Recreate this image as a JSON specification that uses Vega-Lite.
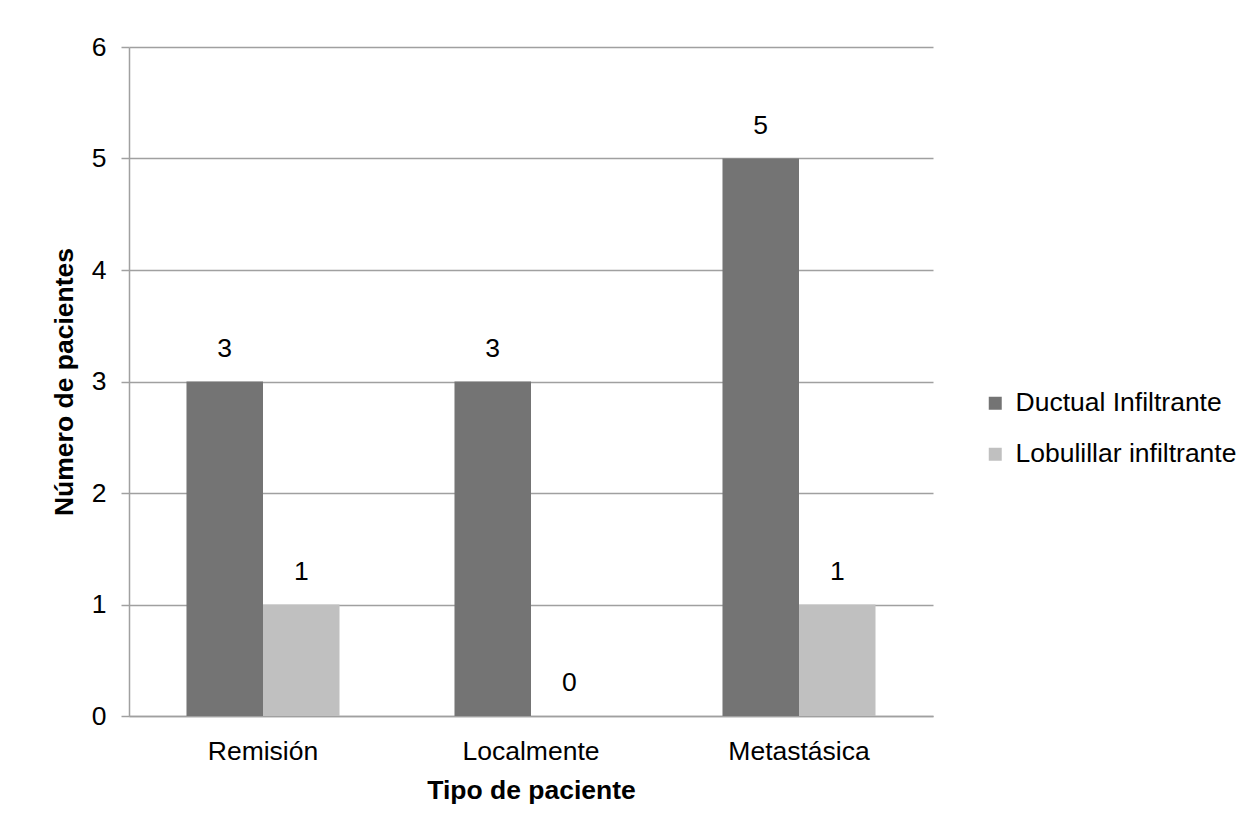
{
  "$schema": "https://vega.github.io/schema/vega-lite/v6.json",
  "width": 804,
  "height": 669,
  "autosize": {"type": "none"},
  "padding": {"left": 129, "top": 47, "right": 315, "bottom": 120},
  "background": "white",
  "data": {
    "values": [
      {"tipo": "Remisión", "histologia": "Ductual Infiltrante", "pacientes": 3},
      {"tipo": "Remisión", "histologia": "Lobulillar infiltrante", "pacientes": 1},
      {"tipo": "Localmente", "histologia": "Ductual Infiltrante", "pacientes": 3},
      {"tipo": "Localmente", "histologia": "Lobulillar infiltrante", "pacientes": 0},
      {"tipo": "Metastásica", "histologia": "Ductual Infiltrante", "pacientes": 5},
      {"tipo": "Metastásica", "histologia": "Lobulillar infiltrante", "pacientes": 1}
    ]
  },
  "config": {
    "font": "Liberation Sans",
    "view": {"stroke": null},
    "axis": {
      "labelFont": "Liberation Sans",
      "labelFontSize": 26.5,
      "labelColor": "#000000",
      "titleFont": "Liberation Sans",
      "titleFontSize": 26.5,
      "titleFontWeight": "bold",
      "titleColor": "#000000",
      "domainColor": "#a0a0a0",
      "domainWidth": 1.5,
      "tickColor": "#a0a0a0",
      "tickWidth": 1.5,
      "gridColor": "#a0a0a0",
      "gridWidth": 1.5,
      "gridOpacity": 1
    }
  },
  "encoding": {
    "x": {
      "field": "tipo",
      "type": "nominal",
      "sort": ["Remisión", "Localmente", "Metastásica"],
      "scale": {"paddingInner": 0.429, "paddingOuter": 0.2145},
      "title": "Tipo de paciente",
      "axis": {
        "labelAngle": 0,
        "ticks": false,
        "tickSize": 0,
        "labelPadding": 22,
        "labelBaseline": "top",
        "titlePadding": 13,
        "grid": false
      }
    },
    "xOffset": {
      "field": "histologia",
      "type": "nominal",
      "sort": ["Ductual Infiltrante", "Lobulillar infiltrante"],
      "scale": {"paddingInner": 0, "paddingOuter": 0}
    },
    "y": {
      "field": "pacientes",
      "type": "quantitative",
      "scale": {"domain": [0, 6], "nice": false},
      "title": "Número de pacientes",
      "axis": {
        "values": [0, 1, 2, 3, 4, 5, 6],
        "format": "d",
        "tickSize": 8,
        "labelPadding": 15,
        "titlePadding": 13,
        "grid": true
      }
    }
  },
  "layer": [
    {
      "mark": {"type": "bar"},
      "encoding": {
        "color": {
          "field": "histologia",
          "type": "nominal",
          "sort": ["Ductual Infiltrante", "Lobulillar infiltrante"],
          "scale": {
            "domain": ["Ductual Infiltrante", "Lobulillar infiltrante"],
            "range": ["#747474", "#c0c0c0"]
          },
          "legend": {
            "title": null,
            "orient": "none",
            "legendX": 853,
            "legendY": 343,
            "padding": 0,
            "symbolType": "square",
            "symbolSize": 169,
            "symbolStrokeWidth": 0,
            "symbolOpacity": 1,
            "labelFont": "Liberation Sans",
            "labelFontSize": 26.5,
            "labelColor": "#000000",
            "labelLimit": 0,
            "labelOffset": 7,
            "rowPadding": 24
          }
        }
      }
    },
    {
      "mark": {
        "type": "text",
        "baseline": "bottom",
        "dy": -19,
        "fontSize": 26.5,
        "font": "Liberation Sans",
        "color": "#000000"
      },
      "encoding": {
        "text": {"field": "pacientes", "type": "quantitative"}
      }
    }
  ]
}
